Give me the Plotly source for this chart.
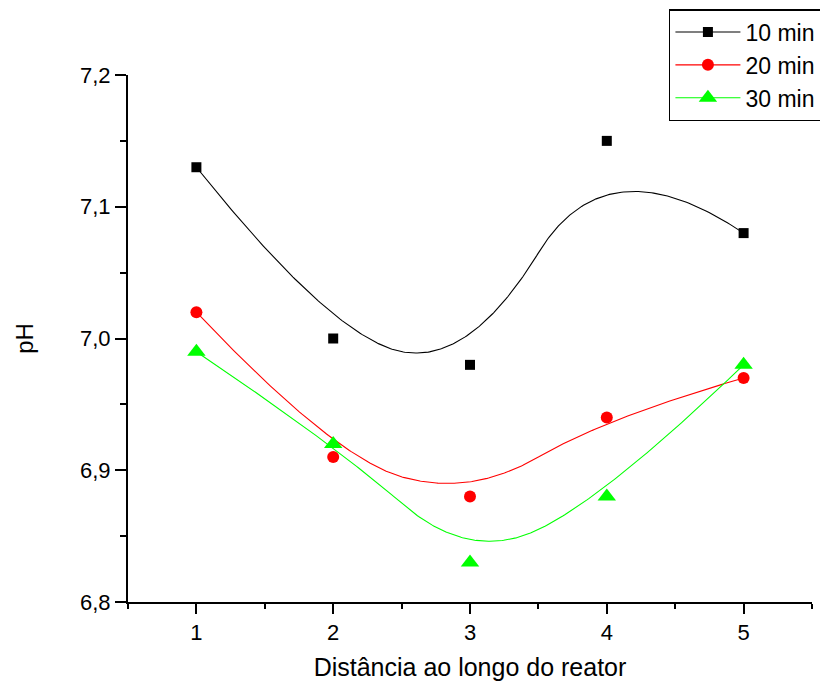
import numpy as np
import plotly.graph_objects as go

# Data
distance = [1, 2, 3, 4, 5]
ph_10min = [7.13, 7.00, 6.98, 7.15, 7.08]
ph_20min = [7.02, 6.91, 6.88, 6.94, 6.97]
ph_30min = [6.99, 6.92, 6.83, 6.88, 6.98]
series_names = ["10 min", "20 min", "30 min"]
colors = ["#000000", "#FF0000", "#00FF00"]
symbols = ["square", "circle", "triangle-up"]
sizes = [10, 12, 16]


def bspline(px, py, k=2, num=300):
    """Clamped uniform B-spline using the data points as control points."""
    px = np.asarray(px, float)
    py = np.asarray(py, float)
    n = len(px)
    inner = np.linspace(0, 1, n - k + 1)
    knots = np.concatenate([np.zeros(k), inner, np.ones(k)])
    t = np.linspace(0, 1, num)
    t[-1] -= 1e-9

    def N(i, d):
        if d == 0:
            return ((knots[i] <= t) & (t < knots[i + 1])).astype(float)
        out = np.zeros_like(t)
        den1 = knots[i + d] - knots[i]
        den2 = knots[i + d + 1] - knots[i + 1]
        if den1 > 0:
            out += (t - knots[i]) / den1 * N(i, d - 1)
        if den2 > 0:
            out += (knots[i + d + 1] - t) / den2 * N(i + 1, d - 1)
        return out

    B = np.array([N(i, k) for i in range(n)])
    return B.T @ px, B.T @ py


fig = go.Figure()
all_series = [ph_10min, ph_20min, ph_30min]
for name, ys, c, s, sz in zip(series_names, all_series, colors, symbols, sizes):
    cx, cy = bspline(distance, ys)
    fig.add_trace(go.Scatter(x=cx, y=cy, mode="lines", line=dict(color=c, width=1.1),
                             showlegend=False, hoverinfo="skip"))
    fig.add_trace(go.Scatter(x=distance, y=ys, mode="markers",
                             marker=dict(symbol=s, size=sz, color=c, line=dict(width=0)),
                             showlegend=False))
for name, c, s, sz in zip(series_names, colors, symbols, sizes):
    fig.add_trace(go.Scatter(x=[None], y=[None], mode="lines+markers", name=name,
                             line=dict(color=c, width=1.1),
                             marker=dict(symbol=s, size=sz, color=c, line=dict(width=0))))

font_family = "Arial, Liberation Sans, sans-serif"
fig.update_layout(
    width=820, height=676,
    margin=dict(l=120, r=16, t=67, b=82, autoexpand=False),
    paper_bgcolor="white", plot_bgcolor="white",
    separators=",.",
    font=dict(family=font_family, color="black", size=22),
    legend=dict(xref="container", yref="container", x=0.806, y=0.9985,
                xanchor="left", yanchor="top",
                bordercolor="black", borderwidth=1.5, bgcolor="white",
                font=dict(size=23), itemwidth=65, tracegroupgap=0),
    xaxis=dict(range=[0.5, 5.5], tickmode="linear", tick0=1, dtick=1,
               showline=True, linecolor="black", linewidth=2,
               ticks="outside", ticklen=10, tickwidth=2, tickcolor="black",
               minor=dict(dtick=0.5, tick0=0.5, ticklen=5, tickwidth=2,
                          ticks="outside", tickcolor="black"),
               showgrid=False, zeroline=False,
               tickfont=dict(size=22),
               title=dict(text="Distância ao longo do reator", font=dict(size=25), standoff=14)),
    yaxis=dict(range=[6.8, 7.2], tickmode="linear", tick0=6.8, dtick=0.1, tickformat=".1f",
               showline=True, linecolor="black", linewidth=2,
               ticks="outside", ticklen=11, tickwidth=2, tickcolor="black",
               minor=dict(dtick=0.05, ticklen=6, tickwidth=2,
                          ticks="outside", tickcolor="black"),
               showgrid=False, zeroline=False,
               tickfont=dict(size=22),
               title=dict(text="pH", font=dict(size=24), standoff=40)),
)

fig.write_html("out.html")
